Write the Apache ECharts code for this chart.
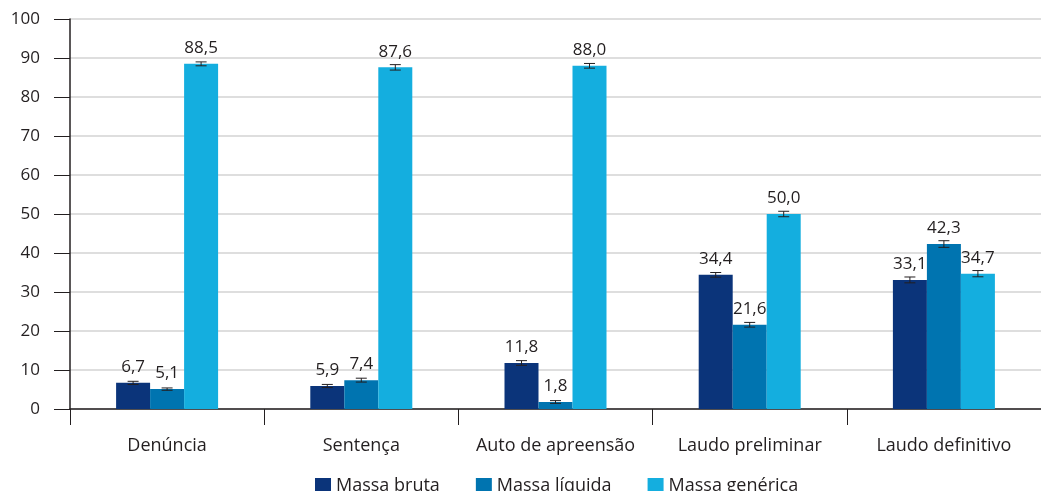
<!DOCTYPE html>
<html>
<head>
<meta charset="utf-8">
<script src="https://cdn.jsdelivr.net/npm/echarts@6/dist/echarts.min.js"></script>
<style>html,body{margin:0;padding:0;background:#fff;}#c{width:1041px;height:491px;}</style>
</head>
<body>
<div id="c"></div>
<script>
const categories = ['Denúncia', 'Sentença', 'Auto de apreensão', 'Laudo preliminar', 'Laudo definitivo'];
const seriesNames = ['Massa bruta', 'Massa líquida', 'Massa genérica'];
const bruta = [6.7, 5.9, 11.8, 34.4, 33.1];
const liquida = [5.1, 7.4, 1.8, 21.6, 42.3];
const generica = [88.5, 87.6, 88.0, 50.0, 34.7];
const brutaErr = [0.4, 0.4, 0.6, 0.6, 0.75];
const liquidaErr = [0.3, 0.5, 0.35, 0.6, 0.85];
const genericaErr = [0.5, 0.7, 0.6, 0.7, 0.8];
const yTicks = [0, 10, 20, 30, 40, 50, 60, 70, 80, 90, 100];

const colors = ['#0B347A', '#0074B0', '#14AEDF'];
const FONT = '"Open Sans", "Noto Sans", sans-serif';
const TXT = '#231f20';
const BAR_W = 34;

const values = [bruta, liquida, generica];
const errs = [brutaErr, liquidaErr, genericaErr];

function fmt(v) { return v.toFixed(1).replace('.', ','); }

const series = [];
values.forEach((vals, s) => {
  series.push({
    name: seriesNames[s],
    type: 'bar',
    barWidth: BAR_W,
    barGap: '0%',
    itemStyle: { color: colors[s] },
    label: {
      show: true, position: 'top', distance: 7,
      fontFamily: FONT, fontSize: 17, color: TXT,
      formatter: p => fmt(p.value)
    },
    data: vals,
    z: 2
  });
});
values.forEach((vals, s) => {
  series.push({
    type: 'custom',
    name: 'err' + s,
    silent: true,
    encode: { x: 0, y: 1 },
    data: vals.map((v, i) => [i, v, errs[s][i]]),
    z: 3,
    renderItem: function (params, api) {
      const i = api.value(0), v = api.value(1), e = api.value(2);
      const c = api.coord([i, v]);
      const x = c[0] + (s - 1) * BAR_W;
      const yt = api.coord([i, v + e])[1];
      const yb = api.coord([i, v - e])[1];
      const hw = 5.5;
      const st = { stroke: TXT, lineWidth: 1 };
      return {
        type: 'group',
        children: [
          { type: 'line', shape: { x1: x, y1: yt, x2: x, y2: yb }, style: st },
          { type: 'line', shape: { x1: x - hw, y1: yt, x2: x + hw, y2: yt }, style: st },
          { type: 'line', shape: { x1: x - hw, y1: yb, x2: x + hw, y2: yb }, style: st }
        ]
      };
    }
  });
});

const chart = echarts.init(document.getElementById('c'));
chart.setOption({
  animation: false,
  color: colors,
  grid: { left: 70, right: 0, top: 19, bottom: 82, containLabel: false },
  legend: {
    data: seriesNames,
    left: 310, top: 472,
    itemWidth: 16, itemHeight: 16, itemGap: 36,
    icon: 'rect',
    textStyle: { fontFamily: FONT, fontSize: 18, color: TXT }
  },
  xAxis: {
    type: 'category',
    data: categories,
    axisLine: { lineStyle: { color: '#231f20', width: 1.5 } },
    axisTick: { show: true, interval: 0, length: 16, lineStyle: { color: '#231f20', width: 1 } },
    axisLabel: { interval: 0, fontFamily: FONT, fontSize: 18, color: TXT, margin: 28 }
  },
  yAxis: {
    type: 'value',
    min: yTicks[0], max: yTicks[yTicks.length - 1], interval: 10,
    axisLine: { show: true, lineStyle: { color: '#231f20', width: 1.5 } },
    axisTick: { show: true, length: 16, lineStyle: { color: '#231f20', width: 1 } },
    axisLabel: { fontFamily: FONT, fontSize: 17, color: TXT, margin: 30 },
    splitLine: { lineStyle: { color: '#d3d3d3', width: 1.5 } }
  },
  series: series
});
</script>
</body>
</html>
